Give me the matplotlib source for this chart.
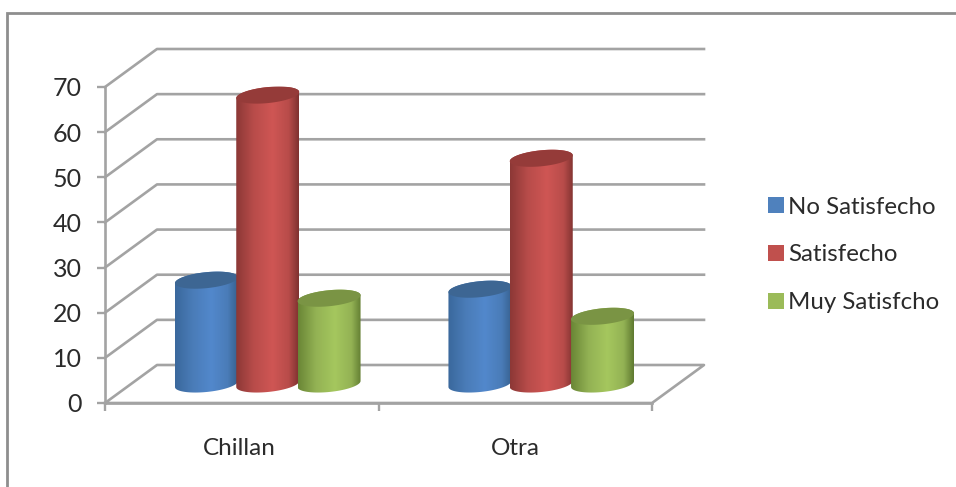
import numpy as np
import matplotlib
matplotlib.use('Agg')
import matplotlib.pyplot as plt
from matplotlib.colors import LinearSegmentedColormap
from matplotlib.lines import Line2D
from matplotlib.patches import Patch, Polygon

plt.rcParams['font.family'] = ['Lato', 'DejaVu Sans']

categories = ['Chillan', 'Otra']
series_names = ['No Satisfecho', 'Satisfecho', 'Muy Satisfcho']
no_satisfecho = [23, 21]
satisfecho = [64, 50]
muy_satisfcho = [19, 15]
y_ticks = [0, 10, 20, 30, 40, 50, 60, 70]

W, H = 956, 487
GRID = '#a3a3a3'
TXT = '#2b2b2b'

# color por serie: borde izq, centro, borde der, tapa, medio
colors = [
    ('#3a689c', '#5288cc', '#37618f', '#3d6693', '#4a7cb8'),
    ('#8c3836', '#cf5654', '#7f3230', '#953b39', '#b84c4a'),
    ('#6a8636', '#a5c75e', '#5f7a30', '#7a9444', '#93b254'),
]
legend_colors = ['#4f81bd', '#c0504d', '#9bbb59']

fig = plt.figure(figsize=(W / 100, H / 100), dpi=100, facecolor='white')
ax = fig.add_axes([105 / W, (H - 403) / H, 547 / W, 316 / H])
ax.set_xlim(0, 2)
ax.set_ylim(0, 70)
ax.patch.set_visible(False)

px_x = 547 / 2
px_y = 316 / 70
# profundidad del grafico 3D
dx = 52 / px_x
dy = 38 / px_y

# pared y piso
for v in y_ticks[1:]:
    ax.plot([0, dx, 2 + dx], [v, v + dy, v + dy], color=GRID, lw=1.9, clip_on=False, zorder=1)
ax.plot([0, dx, 2 + dx, 2, 0], [0, dy, dy, 0, 0], color=GRID, lw=1.9, clip_on=False, zorder=1)

for s in ['top', 'right']:
    ax.spines[s].set_visible(False)
for s in ['left', 'bottom']:
    ax.spines[s].set_color(GRID)
    ax.spines[s].set_linewidth(1.9)

ax.set_yticks(y_ticks)
ax.tick_params(axis='y', length=5.5, width=1.7, color=GRID, labelsize=18, labelcolor=TXT, pad=11)
ax.set_xticks([0, 1, 2])
ax.set_xticklabels([])
ax.tick_params(axis='x', which='major', length=5.5, width=1.7, color=GRID)
ax.set_xticks([0.49, 1.5], minor=True)
ax.set_xticklabels(categories, minor=True)
ax.tick_params(axis='x', which='minor', length=0, labelsize=17.5, labelcolor=TXT, pad=25)


def ellipse(cx, cy, rx, ry, tilt, t):
    # elipse inclinada, en unidades de datos
    ex = rx * np.cos(t)
    ey = ry * np.sin(t) + tilt * np.cos(t)
    return np.column_stack([cx + ex, cy + ey])


def cylinder(cx, val, col, zorder):
    rx = 31.5 / px_x
    ry = 8 / px_y
    tilt = 3 / px_y
    base = dy / 2
    top = base + val
    cx = cx + dx / 2
    t_low = np.linspace(np.pi, 2 * np.pi, 40)
    t_up = np.linspace(0, np.pi, 40)
    low = ellipse(cx, base, rx, ry, tilt, t_low)
    arc = ellipse(cx, top, rx, ry, tilt, t_up)
    body = Polygon(np.vstack([low, arc]), closed=True, transform=ax.transData,
                   facecolor='none', edgecolor='none')
    ax.add_patch(body)
    cmap = LinearSegmentedColormap.from_list('c', [(0, col[0]), (0.28, col[4]), (0.58, col[1]),
                                                   (0.84, col[4]), (1, col[2])])
    grad = np.linspace(0, 1, 128).reshape(1, -1)
    im = ax.imshow(grad, cmap=cmap, aspect='auto', extent=[cx - rx, cx + rx, 0, top + ry + 1],
                   zorder=zorder, clip_on=True)
    im.set_clip_path(body)
    cap = Polygon(ellipse(cx, top, rx, ry, tilt, np.linspace(0, 2 * np.pi, 80)), closed=True,
                  facecolor=col[3], edgecolor='none', zorder=zorder + 0.1, clip_on=False)
    ax.add_patch(cap)


values = [no_satisfecho, satisfecho, muy_satisfcho]
bar_step = 61.3 / px_x
for i in range(len(categories)):
    for j in range(len(series_names)):
        cylinder(i + 0.5 + (j - 1) * bar_step, values[j][i], colors[j], 3 + j)

ax.set_xlim(0, 2)
ax.set_ylim(0, 70)

handles = [Patch(facecolor=legend_colors[j], edgecolor='none') for j in range(3)]
fig.legend(handles, series_names, loc='upper left', bbox_to_anchor=(760.8 / W, 1 - 189.5 / H),
           frameon=False, fontsize=17.3, labelcolor=TXT, handlelength=0.65, handleheight=0.65,
           handletextpad=0.2, labelspacing=1.11, borderpad=0.3, borderaxespad=0)

# marco exterior
fig.add_artist(Line2D([7 / W, 7 / W, 1], [0, 1 - 12.5 / H, 1 - 12.5 / H], color='#8e8e8e', lw=2.0,
                      solid_joinstyle='miter'))

fig.savefig('out.png', dpi=100)
